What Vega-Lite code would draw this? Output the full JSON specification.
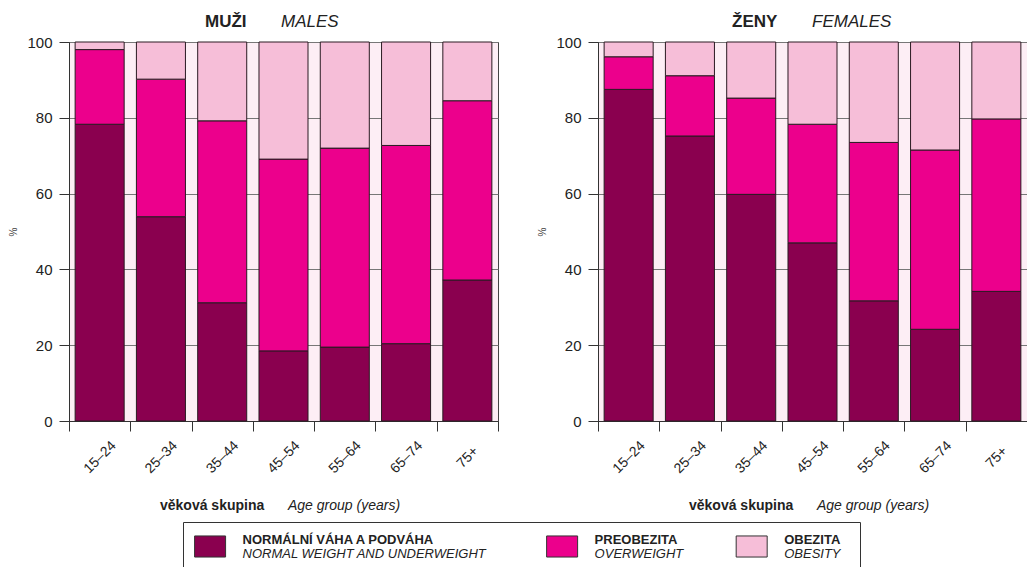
{
  "$schema": "https://vega.github.io/schema/vega-lite/v6.json",
  "padding": {"left": 8, "top": 12, "right": 0, "bottom": 0},
  "background": "white",
  "datasets": {
    "bmi": [
      {"sex": "M", "age": "15–24", "cat": "NORMÁLNÍ VÁHA A PODVÁHA", "k": 1, "value": 78.3},
      {"sex": "M", "age": "15–24", "cat": "PREOBEZITA", "k": 2, "value": 19.7},
      {"sex": "M", "age": "15–24", "cat": "OBEZITA", "k": 3, "value": 2.0},
      {"sex": "M", "age": "25–34", "cat": "NORMÁLNÍ VÁHA A PODVÁHA", "k": 1, "value": 53.9},
      {"sex": "M", "age": "25–34", "cat": "PREOBEZITA", "k": 2, "value": 36.3},
      {"sex": "M", "age": "25–34", "cat": "OBEZITA", "k": 3, "value": 9.8},
      {"sex": "M", "age": "35–44", "cat": "NORMÁLNÍ VÁHA A PODVÁHA", "k": 1, "value": 31.2},
      {"sex": "M", "age": "35–44", "cat": "PREOBEZITA", "k": 2, "value": 48.0},
      {"sex": "M", "age": "35–44", "cat": "OBEZITA", "k": 3, "value": 20.8},
      {"sex": "M", "age": "45–54", "cat": "NORMÁLNÍ VÁHA A PODVÁHA", "k": 1, "value": 18.5},
      {"sex": "M", "age": "45–54", "cat": "PREOBEZITA", "k": 2, "value": 50.6},
      {"sex": "M", "age": "45–54", "cat": "OBEZITA", "k": 3, "value": 30.9},
      {"sex": "M", "age": "55–64", "cat": "NORMÁLNÍ VÁHA A PODVÁHA", "k": 1, "value": 19.5},
      {"sex": "M", "age": "55–64", "cat": "PREOBEZITA", "k": 2, "value": 52.5},
      {"sex": "M", "age": "55–64", "cat": "OBEZITA", "k": 3, "value": 28.0},
      {"sex": "M", "age": "65–74", "cat": "NORMÁLNÍ VÁHA A PODVÁHA", "k": 1, "value": 20.4},
      {"sex": "M", "age": "65–74", "cat": "PREOBEZITA", "k": 2, "value": 52.3},
      {"sex": "M", "age": "65–74", "cat": "OBEZITA", "k": 3, "value": 27.3},
      {"sex": "M", "age": "75+", "cat": "NORMÁLNÍ VÁHA A PODVÁHA", "k": 1, "value": 37.2},
      {"sex": "M", "age": "75+", "cat": "PREOBEZITA", "k": 2, "value": 47.3},
      {"sex": "M", "age": "75+", "cat": "OBEZITA", "k": 3, "value": 15.5},
      {"sex": "F", "age": "15–24", "cat": "NORMÁLNÍ VÁHA A PODVÁHA", "k": 1, "value": 87.5},
      {"sex": "F", "age": "15–24", "cat": "PREOBEZITA", "k": 2, "value": 8.6},
      {"sex": "F", "age": "15–24", "cat": "OBEZITA", "k": 3, "value": 3.9},
      {"sex": "F", "age": "25–34", "cat": "NORMÁLNÍ VÁHA A PODVÁHA", "k": 1, "value": 75.2},
      {"sex": "F", "age": "25–34", "cat": "PREOBEZITA", "k": 2, "value": 15.9},
      {"sex": "F", "age": "25–34", "cat": "OBEZITA", "k": 3, "value": 8.9},
      {"sex": "F", "age": "35–44", "cat": "NORMÁLNÍ VÁHA A PODVÁHA", "k": 1, "value": 59.8},
      {"sex": "F", "age": "35–44", "cat": "PREOBEZITA", "k": 2, "value": 25.4},
      {"sex": "F", "age": "35–44", "cat": "OBEZITA", "k": 3, "value": 14.8},
      {"sex": "F", "age": "45–54", "cat": "NORMÁLNÍ VÁHA A PODVÁHA", "k": 1, "value": 47.0},
      {"sex": "F", "age": "45–54", "cat": "PREOBEZITA", "k": 2, "value": 31.3},
      {"sex": "F", "age": "45–54", "cat": "OBEZITA", "k": 3, "value": 21.7},
      {"sex": "F", "age": "55–64", "cat": "NORMÁLNÍ VÁHA A PODVÁHA", "k": 1, "value": 31.7},
      {"sex": "F", "age": "55–64", "cat": "PREOBEZITA", "k": 2, "value": 41.8},
      {"sex": "F", "age": "55–64", "cat": "OBEZITA", "k": 3, "value": 26.5},
      {"sex": "F", "age": "65–74", "cat": "NORMÁLNÍ VÁHA A PODVÁHA", "k": 1, "value": 24.2},
      {"sex": "F", "age": "65–74", "cat": "PREOBEZITA", "k": 2, "value": 47.3},
      {"sex": "F", "age": "65–74", "cat": "OBEZITA", "k": 3, "value": 28.5},
      {"sex": "F", "age": "75+", "cat": "NORMÁLNÍ VÁHA A PODVÁHA", "k": 1, "value": 34.2},
      {"sex": "F", "age": "75+", "cat": "PREOBEZITA", "k": 2, "value": 45.5},
      {"sex": "F", "age": "75+", "cat": "OBEZITA", "k": 3, "value": 20.3}
    ],
    "leg": [
      {"cat": "NORMÁLNÍ VÁHA A PODVÁHA", "en": "NORMAL WEIGHT AND UNDERWEIGHT"},
      {"cat": "PREOBEZITA", "en": "OVERWEIGHT"},
      {"cat": "OBEZITA", "en": "OBESITY"}
    ]
  },
  "vconcat": [
    {
      "hconcat": [
        {
          "title": {"text": "Age group (years)", "orient": "bottom", "anchor": "start", "frame": "group", "dx": 219, "offset": -14, "fontSize": 14, "fontStyle": "italic", "fontWeight": "normal", "color": "#222"},
          "vconcat": [
            {
              "title": {"text": "věková skupina", "orient": "bottom", "anchor": "start", "frame": "group", "dx": 91, "offset": 23, "fontSize": 14, "fontWeight": "bold", "color": "#222"},
              "vconcat": [
                {
                  "title": {"text": "MALES", "anchor": "start", "frame": "group", "dx": 212, "offset": -18, "fontSize": 17, "fontStyle": "italic", "fontWeight": "normal", "color": "#222"},
                  "vconcat": [
                    {
                      "width": 429, "height": 379,
                      "view": {"fill": "#fdeef5", "stroke": "#444", "strokeWidth": 1},
                      "title": {"text": "MUŽI", "anchor": "start", "frame": "group", "dx": 136, "offset": 4, "fontSize": 17, "fontWeight": "bold", "color": "#222"},
                      "data": {"name": "bmi"},
                      "transform": [{"filter": "datum.sex === 'M'"}],
                      "mark": {"type": "bar", "stroke": "#2a1a22", "strokeWidth": 1, "width": {"band": 0.8}},
                      "encoding": {
                        "x": {"field": "age", "type": "ordinal", "sort": null,
                          "scale": {"paddingInner": 0, "paddingOuter": 0},
                          "axis": {"title": null, "tickBand": "extent", "labelAngle": -45, "labelAlign": "center", "labelBaseline": "middle", "labelPadding": 26, "tickSize": 10, "tickColor": "#333", "domainColor": "#333", "labelFontSize": 14, "labelColor": "#222", "grid": false}},
                        "y": {"field": "value", "type": "quantitative", "stack": "zero",
                          "scale": {"domain": [0, 100], "nice": false},
                          "axis": {"title": "%", "titleFontSize": 10, "titleFontWeight": "normal", "titleColor": "#444", "titlePadding": 8, "values": [0, 20, 40, 60, 80, 100], "tickSize": 10, "tickColor": "#333", "domainColor": "#333", "labelFontSize": 15, "labelColor": "#222", "labelPadding": 7, "grid": true, "gridColor": "#777", "gridOpacity": 1}},
                        "color": {"field": "cat", "type": "nominal", "legend": null,
                          "scale": {"domain": ["NORMÁLNÍ VÁHA A PODVÁHA", "PREOBEZITA", "OBEZITA"], "range": ["#8a004f", "#ec008c", "#f6bed8"]}},
                        "order": {"field": "k", "type": "quantitative"}
                      }
                    }
                  ]
                }
              ]
            }
          ]
        },
        {
          "title": {"text": "Age group (years)", "orient": "bottom", "anchor": "start", "frame": "group", "dx": 219, "offset": -14, "fontSize": 14, "fontStyle": "italic", "fontWeight": "normal", "color": "#222"},
          "vconcat": [
            {
              "title": {"text": "věková skupina", "orient": "bottom", "anchor": "start", "frame": "group", "dx": 91, "offset": 23, "fontSize": 14, "fontWeight": "bold", "color": "#222"},
              "vconcat": [
                {
                  "title": {"text": "FEMALES", "anchor": "start", "frame": "group", "dx": 214, "offset": -18, "fontSize": 17, "fontStyle": "italic", "fontWeight": "normal", "color": "#222"},
                  "vconcat": [
                    {
                      "width": 429, "height": 379,
                      "view": {"fill": "#fdeef5", "stroke": "#444", "strokeWidth": 1},
                      "title": {"text": "ŽENY", "anchor": "start", "frame": "group", "dx": 134, "offset": 4, "fontSize": 17, "fontWeight": "bold", "color": "#222"},
                      "data": {"name": "bmi"},
                      "transform": [{"filter": "datum.sex === 'F'"}],
                      "mark": {"type": "bar", "stroke": "#2a1a22", "strokeWidth": 1, "width": {"band": 0.8}},
                      "encoding": {
                        "x": {"field": "age", "type": "ordinal", "sort": null,
                          "scale": {"paddingInner": 0, "paddingOuter": 0},
                          "axis": {"title": null, "tickBand": "extent", "labelAngle": -45, "labelAlign": "center", "labelBaseline": "middle", "labelPadding": 26, "tickSize": 10, "tickColor": "#333", "domainColor": "#333", "labelFontSize": 14, "labelColor": "#222", "grid": false}},
                        "y": {"field": "value", "type": "quantitative", "stack": "zero",
                          "scale": {"domain": [0, 100], "nice": false},
                          "axis": {"title": "%", "titleFontSize": 10, "titleFontWeight": "normal", "titleColor": "#444", "titlePadding": 8, "values": [0, 20, 40, 60, 80, 100], "tickSize": 10, "tickColor": "#333", "domainColor": "#333", "labelFontSize": 15, "labelColor": "#222", "labelPadding": 7, "grid": true, "gridColor": "#777", "gridOpacity": 1}},
                        "color": {"field": "cat", "type": "nominal", "legend": null,
                          "scale": {"domain": ["NORMÁLNÍ VÁHA A PODVÁHA", "PREOBEZITA", "OBEZITA"], "range": ["#8a004f", "#ec008c", "#f6bed8"]}},
                        "order": {"field": "k", "type": "quantitative"}
                      }
                    }
                  ]
                }
              ]
            }
          ]
        }
      ],
      "spacing": 38
    },
    {
      "hconcat": [
        {
          "width": 113, "height": 49,
          "view": {"stroke": null, "fill": null},
          "data": {"values": []},
          "mark": "point",
          "encoding": {}
        },
        {
          "width": 677, "height": 49,
          "view": {"fill": "white", "stroke": "#333", "strokeWidth": 1},
          "data": {"name": "leg"},
          "encoding": {
            "x": {"field": "cat", "type": "nominal", "axis": null,
              "scale": {"type": "point", "padding": 1.22,
                "domain": ["NORMÁLNÍ VÁHA A PODVÁHA", "s01", "s02", "s03", "s04", "s05", "s06", "s07", "s08", "s09", "s10", "s11", "s12", "PREOBEZITA", "s14", "s15", "s16", "s17", "s18", "s19", "OBEZITA", "s21", "s22", "s23"]}}
          },
          "layer": [
            {
              "mark": {"type": "point", "shape": "M-1,-0.68H1V0.68H-1Z", "size": 961, "filled": true, "opacity": 1, "stroke": "#333", "strokeWidth": 1},
              "encoding": {
                "color": {"field": "cat", "type": "nominal", "legend": null,
                  "scale": {"domain": ["NORMÁLNÍ VÁHA A PODVÁHA", "PREOBEZITA", "OBEZITA"], "range": ["#8a004f", "#ec008c", "#f6bed8"]}}
              }
            },
            {
              "mark": {"type": "text", "align": "left", "baseline": "middle", "dx": 32.5, "dy": -7, "fontSize": 13, "fontWeight": "bold", "color": "#222"},
              "encoding": {"text": {"field": "cat"}}
            },
            {
              "mark": {"type": "text", "align": "left", "baseline": "middle", "dx": 32.5, "dy": 7, "fontSize": 13, "fontStyle": "italic", "color": "#222"},
              "encoding": {"text": {"field": "en"}}
            }
          ]
        }
      ],
      "spacing": 0
    }
  ],
  "spacing": 7,
  "resolve": {"scale": {"color": "independent", "x": "independent"}},
  "config": {
    "font": "Liberation Sans",
    "axis": {"labelFont": "Liberation Sans", "titleFont": "Liberation Sans"},
    "title": {"font": "Liberation Sans"}
  }
}
